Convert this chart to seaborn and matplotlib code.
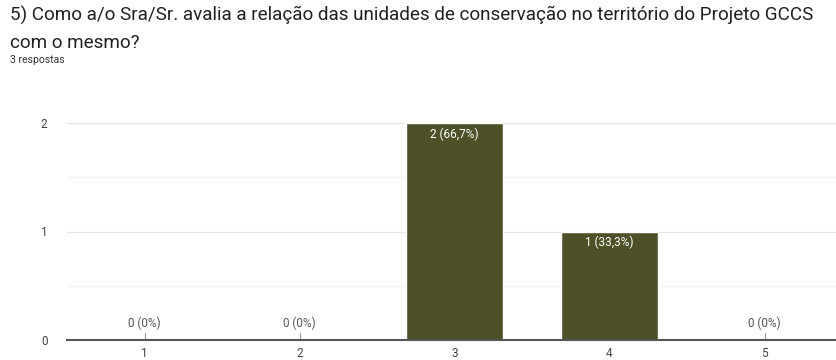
import matplotlib
matplotlib.use("Agg")
import matplotlib.pyplot as plt
import seaborn as sns
import pandas as pd

# Data
categories = ["1", "2", "3", "4", "5"]
counts = [0, 0, 2, 1, 0]
labels = ["0 (0%)", "0 (0%)", "2 (66,7%)", "1 (33,3%)", "0 (0%)"]

title = "5) Como a/o Sra/Sr. avalia a relação das unidades de conservação no território do Projeto GCCS\ncom o mesmo?"
subtitle = "3 respostas"

df = pd.DataFrame({"nota": categories, "respostas": counts})

sns.set_style("white")
plt.rcParams["font.family"] = ["Roboto", "DejaVu Sans"]

fig = plt.figure(figsize=(8.36, 3.6), dpi=100)
ax = fig.add_axes([67 / 836, 20 / 360, 775 / 836, 217 / 360])

sns.barplot(data=df, x="nota", y="respostas", order=categories,
            color="#4e5127", saturation=1, width=0.62, ax=ax)

ax.set_ylim(0, 2)
ax.set_xlim(-0.5, 4.5)
ax.set_yticks([0, 1, 2])
ax.set_yticks([0.5, 1.5], minor=True)
ax.grid(axis="y", which="major", color="#e6e6e6", lw=1)
ax.grid(axis="y", which="minor", color="#f2f2f2", lw=1)
ax.set_axisbelow(True)
for side in ["top", "right", "left"]:
    ax.spines[side].set_visible(False)
ax.spines["bottom"].set_color("#555555")
ax.spines["bottom"].set_linewidth(1.5)
ax.tick_params(axis="both", length=0, labelsize=8.5, colors="#444444")
ax.tick_params(axis="y", pad=14)
ax.tick_params(axis="x", pad=5)
ax.set_xlabel("")
ax.set_ylabel("")

for i, (v, lab) in enumerate(zip(counts, labels)):
    if v > 0:
        ax.text(i, v - 0.04, lab, ha="center", va="top", color="white", fontsize=8.5)
    else:
        ax.plot([i, i], [0, 0.06], color="#999999", lw=0.8)
        ax.text(i, 0.09, lab, ha="center", va="bottom", color="#555555", fontsize=8.5)

fig.text(10 / 836, 1 - 6 / 360, title, ha="left", va="top", fontsize=13.6,
         color="#202124", linespacing=1.6)
fig.text(10 / 836, 1 - 55 / 360, subtitle, ha="left", va="top", fontsize=7.5,
         color="#333333")

fig.savefig("out.png", dpi=100)
